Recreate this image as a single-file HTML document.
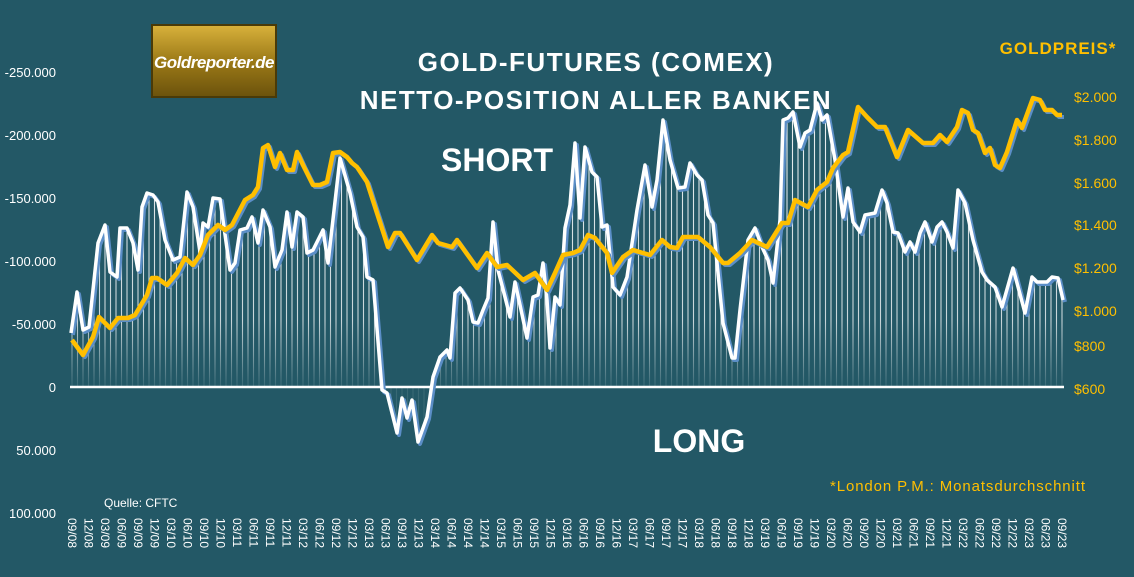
<!DOCTYPE html>
<html><head><meta charset="utf-8"><style>
html,body{margin:0;padding:0;background:#235866;}
svg{display:block;font-family:"Liberation Sans",sans-serif;}
</style></head><body>
<svg id="s" width="1134" height="577" viewBox="0 0 1134 577" xmlns="http://www.w3.org/2000/svg">
<defs>
<linearGradient id="lg" x1="0" y1="0" x2="0" y2="1">
<stop offset="0" stop-color="#d9b23c"/><stop offset="0.5" stop-color="#9c7a17"/><stop offset="1" stop-color="#6b520c"/>
</linearGradient>
<linearGradient id="fade" gradientUnits="userSpaceOnUse" x1="0" y1="120" x2="0" y2="387">
<stop offset="0" stop-color="#fff" stop-opacity="0.9"/><stop offset="0.75" stop-color="#fff" stop-opacity="0.75"/><stop offset="1" stop-color="#fff" stop-opacity="0.1"/>
</linearGradient>
<clipPath id="cp"><polygon id="cpoly" points=""/></clipPath>
</defs>
<rect width="1134" height="577" fill="#235866"/>
<g id="drops" clip-path="url(#cp)"></g>
<line x1="70" y1="387" x2="1064" y2="387" stroke="#fff" stroke-width="2.5"/>
<polyline id="ws" fill="none" stroke="#5b8ec7" stroke-width="4" stroke-linejoin="round" transform="translate(2,2)"/>
<polyline id="w" fill="none" stroke="#fff" stroke-width="3.5" stroke-linejoin="round"/>
<polyline id="gs" fill="none" stroke="#5b8ec7" stroke-width="4" stroke-linejoin="round" transform="translate(2,2)"/>
<polyline id="g" fill="none" stroke="#ffbf00" stroke-width="4.5" stroke-linejoin="round"/>
<g fill="#fff" font-size="13" text-anchor="end">
<text x="56" y="77">-250.000</text><text x="56" y="140">-200.000</text><text x="56" y="203">-150.000</text>
<text x="56" y="266">-100.000</text><text x="56" y="329">-50.000</text><text x="56" y="392">0</text>
<text x="56" y="455">50.000</text><text x="56" y="518">100.000</text>
</g>
<g fill="#ffbf00" font-size="14">
<text x="1074" y="102">$2.000</text><text x="1074" y="145">$1.800</text><text x="1074" y="188">$1.600</text>
<text x="1074" y="230">$1.400</text><text x="1074" y="273">$1.200</text><text x="1074" y="316">$1.000</text>
<text x="1074" y="351">$800</text><text x="1074" y="394">$600</text>
</g>
<rect x="152" y="25" width="124" height="72" fill="url(#lg)" stroke="#4a3a08" stroke-width="2"/>
<text x="214" y="68" fill="#fff" font-size="17" font-weight="bold" font-style="italic" text-anchor="middle" letter-spacing="-0.5">Goldreporter.de</text>
<g fill="#fff" font-weight="bold" text-anchor="middle">
<text x="596" y="71" font-size="26" letter-spacing="1.5">GOLD-FUTURES (COMEX)</text>
<text x="596" y="109" font-size="26" letter-spacing="1.5">NETTO-POSITION ALLER BANKEN</text>
<text x="497" y="171" font-size="32">SHORT</text>
<text x="699" y="452" font-size="32">LONG</text>
</g>
<text x="1058" y="54" fill="#ffbf00" font-size="17" font-weight="bold" text-anchor="middle" letter-spacing="1">GOLDPREIS*</text>
<text x="830" y="491" fill="#ffbf00" font-size="15" textLength="255">*London P.M.: Monatsdurchschnitt</text>
<text x="104" y="507" fill="#fff" font-size="12">Quelle: CFTC</text>
<g id="xl" fill="#fff" font-size="12"></g>
</svg>
<script>
var W=[[71,333],[77,292],[83,330],[89,327],[98,243],[105,225],[110,272],[117,277],[120,228],[127,228],[133,243],[138,270],[142,207],[147,193],[153,195],[158,202],[165,240],[173,260],[180,257],[187,192],[193,207],[200,252],[203,223],[208,227],[213,198],[220,199],[230,270],[235,263],[240,230],[247,228],[252,217],[258,243],[263,210],[270,227],[275,267],[282,250],[287,212],[292,247],[297,212],[303,217],[307,253],[313,250],[323,230],[328,263],[340,158],[350,193],[357,227],[363,237],[367,277],[373,280],[382,390],[387,393],[397,433],[402,398],[407,418],[412,400],[418,442],[427,417],[433,377],[440,357],[447,350],[450,358],[455,293],[460,288],[468,300],[473,322],[478,323],[483,310],[488,298],[493,222],[498,270],[505,297],[510,317],[515,282],[520,305],[527,338],[533,297],[538,295],[543,263],[547,300],[550,348],[555,297],[560,305],[565,228],[570,205],[575,143],[580,218],[585,147],[592,172],[597,177],[602,227],[607,225],[613,287],[620,295],[627,277],[637,210],[645,165],[652,207],[657,180],[663,120],[670,160],[678,188],[685,187],[690,163],[697,175],[702,180],[708,215],[713,223],[723,323],[732,358],[735,358],[740,310],[748,240],[755,228],[762,247],[768,260],[773,283],[780,220],[783,120],[788,118],[793,112],[800,147],[805,133],[810,130],[817,103],[822,120],[827,115],[835,160],[843,217],[848,188],[853,222],[860,232],[865,215],[875,213],[882,190],[887,203],[893,232],[898,233],[905,252],[910,242],[915,252],[920,233],[925,222],[932,242],[937,227],[942,222],[947,232],[953,248],[958,190],[965,203],[973,240],[982,272],[987,280],[995,287],[1002,307],[1013,268],[1025,313],[1032,277],[1037,282],[1047,282],[1052,277],[1058,278],[1063,300]];
var G=[[72,340],[83,355],[93,337],[99,317],[110,328],[118,318],[128,318],[135,315],[147,295],[152,278],[157,278],[167,285],[177,273],[185,258],[193,265],[200,255],[208,235],[218,225],[225,230],[232,225],[245,200],[253,195],[258,187],[263,148],[268,145],[275,167],[280,153],[287,170],[293,170],[297,152],[303,165],[313,185],[320,185],[327,182],[333,153],[340,152],[347,157],[352,163],[357,167],[367,182],[377,213],[388,247],[395,233],[400,233],[417,260],[432,235],[438,243],[452,247],[457,240],[477,268],[487,253],[497,267],[507,265],[523,280],[535,273],[547,290],[555,273],[563,255],[573,253],[580,250],[588,235],[595,238],[607,253],[612,273],[623,257],[633,250],[643,253],[650,255],[662,240],[670,247],[677,248],[683,237],[698,237],[710,247],[723,263],[728,263],[740,253],[752,240],[767,247],[782,223],[788,223],[795,200],[808,207],[817,190],[827,182],[833,168],[843,155],[848,152],[858,107],[867,117],[877,127],[885,127],[897,157],[908,130],[923,143],[933,143],[940,135],[947,142],[957,127],[962,110],[968,113],[973,130],[978,133],[985,153],[990,148],[995,165],[1000,168],[1007,152],[1017,120],[1022,128],[1033,98],[1040,100],[1045,110],[1052,110],[1057,115],[1062,115]];
function s(a){return a.map(function(p){return p.join(',')}).join(' ');}
['w','ws'].forEach(function(i){document.getElementById(i).setAttribute('points',s(W));});
['g','gs'].forEach(function(i){document.getElementById(i).setAttribute('points',s(G));});
document.getElementById('cpoly').setAttribute('points','71,387 '+s(W)+' 1063,387');
var NS='http://www.w3.org/2000/svg',d=document.getElementById('drops');
for(var x=72;x<=1063;x+=5.5){var l=document.createElementNS(NS,'line');l.setAttribute('x1',x);l.setAttribute('x2',x);l.setAttribute('y1',90);l.setAttribute('y2',460);l.setAttribute('stroke','url(#fade)');l.setAttribute('stroke-width','1.1');d.appendChild(l);}
var xl=document.getElementById('xl'),m=['09','12','03','06'],yr=8;
for(var i=0;i<61;i++){var mm=m[i%4];if(mm=='03')yr++;var t=document.createElementNS(NS,'text');var x=72+i*16.5;
t.setAttribute('transform','translate('+(x-4)+',518) rotate(90)');t.textContent=mm+'/'+(yr<10?'0'+yr:yr);xl.appendChild(t);}
</script>
</body></html>
